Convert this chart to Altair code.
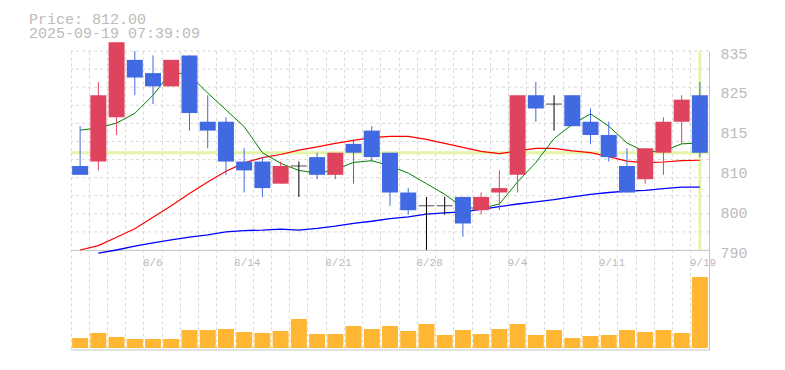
import json
import altair as alt
import numpy as np
import pandas as pd

# ---------------- data ----------------
dates = ["7/31", "8/1", "8/4", "8/5", "8/6", "8/7", "8/8", "8/12", "8/13", "8/14",
         "8/15", "8/18", "8/19", "8/20", "8/21", "8/22", "8/25", "8/26", "8/27", "8/28",
         "8/29", "9/1", "9/2", "9/3", "9/4", "9/5", "9/8", "9/9", "9/10", "9/11",
         "9/12", "9/16", "9/17", "9/18", "9/19"]
opens = [809, 810, 820, 833, 830, 827, 834, 819, 819, 810,
         810, 805, 809, 811, 807, 814, 817, 812, 803, 800,
         800, 802, 799, 803, 807, 825, 823, 825, 819, 816,
         809, 806, 812, 819, 825]
highs = [818, 828, 837, 835, 834, 833, 834, 825, 820, 813,
         811, 810, 810, 812, 812, 815, 818, 812, 804, 802,
         802, 802, 803, 808, 825, 828, 825, 825, 822, 819,
         813, 813, 820, 825, 828]
lows = [807, 808, 816, 825, 823, 827, 817, 813, 807, 803,
        802, 805, 802, 806, 806, 805, 810, 800, 798, 790,
        798, 793, 798, 799, 803, 819, 817, 818, 814, 810,
        803, 805, 807, 814, 811]
closes = [807, 825, 837, 829, 827, 833, 821, 817, 810, 808,
          804, 809, 809, 807, 812, 812, 811, 803, 799, 800,
          800, 796, 802, 804, 825, 822, 823, 818, 816, 811,
          803, 813, 819, 824, 812]
volumes = [10, 15, 11, 9, 9, 9, 18, 18, 19, 16,
           15, 17, 29, 14, 14, 22, 19, 22, 17, 24,
           13, 18, 14, 19, 24, 13, 18, 10, 12, 13,
           18, 16, 18, 15, 71]
ma_short = [817.1, 817.6, 818.7, 820.9, 825.0, 830.3, 829.5, 825.5, 821.7, 817.9,
            812.0, 809.6, 808.0, 807.4, 808.2, 809.8, 810.2, 809.0, 807.4, 805.0,
            802.6, 799.6, 799.4, 800.4, 805.4, 809.8, 815.2, 818.4, 820.8, 818.0,
            814.2, 812.2, 812.4, 814.0, 814.2]
ma_mid = [790.0, 791.0, 792.9, 794.8, 797.4, 800.0, 802.8, 805.4, 807.8, 809.7,
          810.9, 811.6, 812.6, 813.3, 814.1, 814.8, 815.4, 815.7, 815.7, 815.0,
          814.1, 813.2, 812.3, 811.8, 812.4, 813.0, 813.0, 812.4, 812.0, 811.1,
          810.1, 809.7, 809.9, 810.2, 810.3]
ma_long = [None, 789.3, 790.0, 790.9, 791.6, 792.3, 792.9, 793.4, 794.1, 794.4,
           794.5, 794.7, 794.5, 794.9, 795.4, 796.0, 796.5, 797.1, 797.5, 798.1,
           798.4, 798.6, 799.2, 799.8, 800.4, 800.9, 801.4, 802.0, 802.6, 803.0,
           803.3, 803.5, 803.9, 804.2, 804.2]
y_tick_values = [790, 799, 808, 817, 826, 835]
x_label_dates = ["8/6", "8/14", "8/21", "8/28", "9/4", "9/11", "9/19"]
last_price = 812.00
timestamp = "2025-09-19 07:39:09"
price_min, price_max = 790, 835

# ---------------- layout / style ----------------
W, H_PRICE, H_VOL = 638, 199, 100
H = H_PRICE + H_VOL
BAND = W / len(dates)
ppu = H_PRICE / (price_max - price_min)
price_domain = [price_max - H / ppu, price_max]
vol_floor = 2
vol_domain = [-vol_floor, H - vol_floor]
grid_vals = [price_min + k * (price_max - price_min) / 11 for k in range(12)]

MONO = "Liberation Mono"
RED, BLUE = "#e0435e", "#4169e1"
ORANGE = "#ffb733"
HL = "#e4f4a8"
GRID = "#d9d9d9"
LINE = "#c4c4c4"
TXT = "#bbbbbb"

df = pd.DataFrame({"date": dates, "open": opens, "high": highs, "low": lows,
                   "close": closes, "vol": volumes, "ma5": ma_short,
                   "ma25": ma_mid, "ma75": ma_long})
df["dir"] = np.where(df["close"] > df["open"], "up",
                     np.where(df["close"] < df["open"], "down", "flat"))
df["zero"] = 0

label_expr = ("indexof(" + json.dumps(x_label_dates).replace('"', "'") +
              ", datum.value) >= 0 ? datum.value : ''")
XAXIS = alt.Axis(orient="bottom", offset=-H_VOL, bandPosition=0, grid=True,
                 gridColor=GRID, gridDash=[3, 3], gridWidth=1, ticks=False,
                 tickSize=0, domain=True, domainColor=LINE, labelExpr=label_expr,
                 labelAlign="left", labelBaseline="top", labelPadding=6,
                 labelOffset=-BAND / 2 - 1, labelFont=MONO, labelFontSize=11,
                 labelColor=TXT, labelOverlap=False, labelAngle=0, title=None)
X = alt.X("date:N", scale=alt.Scale(domain=dates, paddingInner=0, paddingOuter=0),
          axis=XAXIS)

PRICE_AXIS = alt.Axis(orient="right", values=y_tick_values,
                      labelExpr="format(round(datum.value/5)*5, 'd')", grid=False,
                      ticks=False, tickSize=0, domain=True, domainColor=LINE,
                      labelPadding=11, labelFont=MONO, labelFontSize=15,
                      labelColor=TXT, labelOffset=2, labelFlush=False,
                      labelOverlap=False, title=None)
PSCALE = alt.Scale(domain=price_domain, nice=False, zero=False)


def PY(field):
    return alt.Y(f"{field}:Q", scale=PSCALE, axis=PRICE_AXIS)


COLOR = alt.Color("dir:N", scale=alt.Scale(domain=["up", "down", "flat"],
                                           range=[RED, BLUE, "#000000"]), legend=None)

grid_h = alt.Chart(pd.DataFrame({"g": grid_vals})).mark_rule(
    color=GRID, strokeDash=[3, 3], strokeWidth=1).encode(y=PY("g"))
hl_h = alt.Chart(pd.DataFrame({"p": [last_price]})).mark_rule(
    color=HL, strokeWidth=3).encode(y=PY("p"))
hl_v = alt.Chart(pd.DataFrame({"date": [dates[-1]], "lo": [price_min], "hi": [price_max]})
                 ).mark_rule(color=HL, strokeWidth=3).encode(x=X, y=PY("lo"), y2="hi")
l75 = alt.Chart(df).mark_line(color="#0000ff", strokeWidth=1.3).encode(x=X, y=PY("ma75"))
l25 = alt.Chart(df).mark_line(color="#ff0000", strokeWidth=1.2).encode(x=X, y=PY("ma25"))
l5 = alt.Chart(df).mark_line(color="#008000", strokeWidth=1).encode(x=X, y=PY("ma5"))
wick = alt.Chart(df).mark_rule(strokeWidth=1).encode(x=X, y=PY("low"), y2="high", color=COLOR)
body = alt.Chart(df).transform_filter("datum.dir != 'flat'").mark_bar(width=16).encode(
    x=X, y=PY("open"), y2="close", color=COLOR)
doji = alt.Chart(df).transform_filter("datum.dir == 'flat'").mark_tick(
    size=16, thickness=1).encode(x=X, y=PY("close"), color=COLOR)

header = alt.Chart(pd.DataFrame({"t": [f"Price: {last_price:.2f}\n{timestamp}"]})).mark_text(
    align="left", baseline="alphabetic", font=MONO, fontSize=15, color=TXT,
    lineBreak="\n", lineHeight=14.5
).encode(x=alt.value(-42), y=alt.value(-27.5), text="t:N")

price = alt.layer(grid_h, hl_h, hl_v, l75, l25, l5, wick, body, doji, header)

VSCALE = alt.Scale(domain=vol_domain, nice=False, zero=False)
bars = alt.Chart(df).mark_bar(width=16, color=ORANGE).encode(
    x=X, y=alt.Y("vol:Q", scale=VSCALE, axis=None), y2="zero")
bottom = alt.Chart(pd.DataFrame({"v": [vol_domain[0]]})).mark_rule(
    color=LINE, strokeWidth=1).encode(y=alt.Y("v:Q", scale=VSCALE, axis=None))
vol = alt.layer(bars, bottom)

chart = alt.layer(price, vol).resolve_scale(y="independent").properties(
    width=W, height=H,
    padding={"left": 63, "top": 43, "right": 68, "bottom": 12},
    autosize=alt.AutoSizeParams(type="none"),
).configure_view(stroke=None)

chart.save("out.html", embed_options={"renderer": "svg", "actions": False})
